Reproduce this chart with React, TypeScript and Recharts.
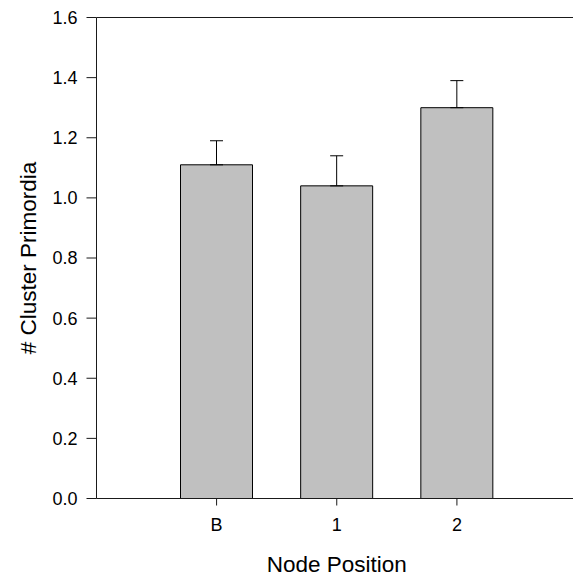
import { BarChart, Bar, XAxis, YAxis, ErrorBar, ReferenceLine } from 'recharts'

const positions = ['B', '1', '2']
const primordia = [1.11, 1.04, 1.3]
const primordiaSe = [0.08, 0.1, 0.09]
const yTicks = [0, 0.2, 0.4, 0.6, 0.8, 1.0, 1.2, 1.4, 1.6]

const data = positions.map((p, i) => ({
  pos: p,
  value: primordia[i],
  // only the upper whisker is drawn in the original
  err: [0, primordiaSe[i]],
}))

const font = '"Liberation Sans", Arial, sans-serif'
const ink = '#1a1a1a'

export default function App() {
  return (
    <div style={{ position: 'absolute', left: 0, top: 0, width: 573, height: 580, background: '#fff' }}>
      <BarChart
        width={573}
        height={580}
        data={data}
        margin={{ top: 17.5, right: 0, bottom: 0, left: 0 }}
        style={{ fontFamily: font }}
      >
        <XAxis
          dataKey="pos"
          height={81.5}
          padding={{ left: 60, right: 56 }}
          axisLine={{ stroke: ink }}
          tickLine={{ stroke: ink }}
          tickSize={7}
          tickMargin={13}
          tick={{ fontSize: 18, fill: '#000', fontFamily: font }}
          label={{
            value: 'Node Position',
            position: 'insideBottom',
            offset: 8,
            dx: 2,
            style: { fontSize: 22.5, fill: '#000', fontFamily: font },
          }}
        />
        <YAxis
          width={96.5}
          domain={[0, 1.6]}
          ticks={yTicks}
          interval={0}
          tickFormatter={(v: number) => v.toFixed(1)}
          axisLine={{ stroke: ink }}
          tickLine={{ stroke: ink }}
          tickSize={10}
          tickMargin={9}
          tick={{ fontSize: 18, fill: '#000', fontFamily: font }}
          label={{
            value: '# Cluster Primordia',
            angle: -90,
            position: 'insideLeft',
            offset: 28,
            style: { textAnchor: 'middle', fontSize: 22.5, fill: '#000', fontFamily: font },
          }}
        />
        <ReferenceLine y={1.6} stroke={ink} strokeWidth={1} />
        <Bar dataKey="value" fill="#c0c0c0" stroke="#000" strokeWidth={1} barSize={72} isAnimationActive={false}>
          <ErrorBar dataKey="err" width={6.5} stroke="#000" strokeWidth={1} direction="y" />
        </Bar>
      </BarChart>
    </div>
  )
}
